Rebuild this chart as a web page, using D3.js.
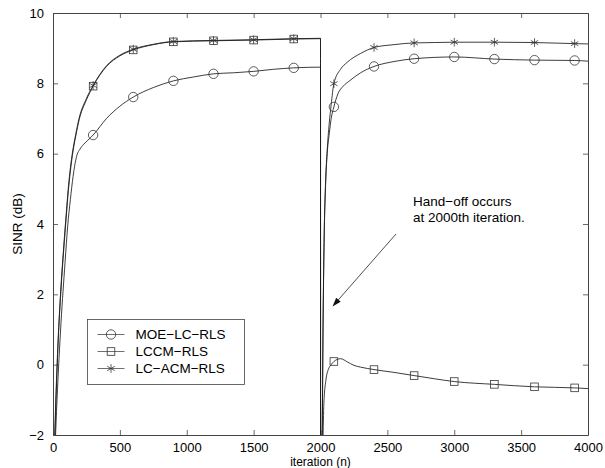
<!DOCTYPE html>
<html>
<head>
<meta charset="utf-8">
<script src="https://cdn.jsdelivr.net/npm/d3@7"></script>
<style>
  html, body { margin: 0; padding: 0; background: #fff; }
  svg { display: block; }
  text { font-family: "Liberation Sans", Arial, Helvetica, sans-serif; fill: #000; }
</style>
</head>
<body>
<svg id="chart" width="605" height="468"></svg>
<script>
// SINR convergence of three adaptive receivers, hand-off at n = 2000
const xTicks = [0, 500, 1000, 1500, 2000, 2500, 3000, 3500, 4000];
const yTicks = [-2, 0, 2, 4, 6, 8, 10];

const seriesNames = ["MOE\u2212LC\u2212RLS", "LCCM\u2212RLS", "LC\u2212ACM\u2212RLS"];
const markerIters = [300, 600, 900, 1200, 1500, 1800, 2100, 2400, 2700, 3000, 3300, 3600, 3900];

// [iteration, SINR dB]
const moeLcRls = [
  [0, -4], [30, -1.0], [60, 1.2], [90, 2.9], [110, 3.95], [130, 4.7], [150, 5.35], [165, 5.72],
  [180, 5.97], [200, 6.12], [230, 6.27], [260, 6.38], [300, 6.53], [400, 7.0], [500, 7.35],
  [600, 7.61], [750, 7.88], [900, 8.07], [1050, 8.18], [1200, 8.27], [1350, 8.3], [1500, 8.34],
  [1650, 8.4], [1800, 8.44], [2000, 8.46],
  [2000.5, -4], [2012, -2.2], [2020, 1.4], [2028, 3.7], [2038, 5.1], [2050, 6.0], [2065, 6.55],
  [2080, 7.0], [2100, 7.33], [2130, 7.7], [2170, 7.92], [2220, 8.08], [2300, 8.3], [2400, 8.48],
  [2550, 8.62], [2700, 8.70], [3000, 8.75], [3300, 8.69], [3600, 8.66], [3900, 8.65], [4000, 8.63]
];
const lccmRls = [
  [0, -4], [20, -1.3], [40, 0.75], [60, 2.15], [80, 3.25], [100, 4.25], [115, 4.95], [130, 5.5],
  [145, 5.95], [170, 6.5], [196, 6.97], [250, 7.53], [300, 7.92], [400, 8.48], [500, 8.78],
  [600, 8.95], [750, 9.1], [900, 9.18], [1200, 9.21], [1500, 9.23], [1800, 9.26], [2000, 9.27],
  [2000.5, -4], [2018, -2.2], [2025, -1.1], [2040, -0.45], [2060, -0.12], [2080, 0.0], [2100, 0.09],
  [2150, 0.17], [2200, 0.08], [2250, -0.02], [2300, -0.07], [2400, -0.14], [2550, -0.22],
  [2700, -0.31], [2850, -0.4], [3000, -0.48], [3300, -0.56], [3600, -0.63], [3900, -0.66], [4000, -0.68]
];
const lcAcmRls = [
  [0, -4], [20, -1.1], [40, 0.85], [60, 2.25], [80, 3.35], [100, 4.35], [115, 5.05], [130, 5.6],
  [145, 6.02], [170, 6.55], [196, 7.02], [250, 7.57], [300, 7.94], [400, 8.5], [500, 8.8],
  [600, 8.97], [750, 9.11], [900, 9.19], [1200, 9.22], [1500, 9.24], [1800, 9.27], [2000, 9.28],
  [2000.5, -4], [2012, -2.2], [2020, 1.5], [2028, 3.8], [2038, 5.2], [2050, 6.1], [2065, 6.85],
  [2080, 7.4], [2100, 7.99], [2150, 8.4], [2200, 8.6], [2300, 8.85], [2400, 9.02], [2550, 9.1],
  [2700, 9.15], [2850, 9.16], [3000, 9.17], [3300, 9.17], [3600, 9.16], [3900, 9.13], [4000, 9.12]
];

const svg = d3.select("#chart");
const m = { left: 53, right: 17, top: 13, bottom: 33 };
const W = 605, H = 468;
const x = d3.scaleLinear().domain([0, 4000]).range([m.left, W - m.right]);
const y = d3.scaleLinear().domain([-2, 10]).range([H - m.bottom, m.top]);

const axisColor = "#444";
const lineColor = "#1a1a1a";

svg.append("defs").append("clipPath").attr("id", "plotClip")
  .append("rect").attr("x", x(0)).attr("y", y(10)).attr("width", x(4000) - x(0)).attr("height", y(-2) - y(10));

// axes box with inward ticks on all sides
const tickLen = 5;
const bottomAxis = d3.axisBottom(x).tickValues(xTicks).tickSizeInner(-tickLen).tickSizeOuter(0).tickPadding(7.5)
  .tickFormat(d3.format("d"));
const leftAxis = d3.axisLeft(y).tickValues(yTicks).tickSizeInner(-tickLen).tickSizeOuter(0).tickPadding(9)
  .tickFormat(d => (d < 0 ? "\u2212" + Math.abs(d) : String(d)));
const topAxis = d3.axisTop(x).tickValues(xTicks).tickSizeInner(-tickLen).tickSizeOuter(0).tickFormat("");
const rightAxis = d3.axisRight(y).tickValues(yTicks).tickSizeInner(-tickLen).tickSizeOuter(0).tickFormat("");

function styleAxis(g) {
  g.selectAll("path.domain").attr("stroke", axisColor).attr("stroke-width", 1);
  g.selectAll(".tick line").attr("stroke", axisColor).attr("stroke-width", 0.8);
  g.selectAll(".tick text").attr("font-size", 13).attr("fill", "#000")
    .attr("font-family", "'Liberation Sans', Arial, sans-serif");
}
svg.append("g").attr("transform", `translate(0,${y(-2)})`).call(bottomAxis).call(styleAxis);
svg.append("g").attr("transform", `translate(${x(0)},0)`).call(leftAxis).call(styleAxis);
svg.append("g").attr("transform", `translate(0,${y(10)})`).call(topAxis).call(styleAxis);
svg.append("g").attr("transform", `translate(${x(4000)},0)`).call(rightAxis).call(styleAxis);

// curves
const line = d3.line().x(d => x(d[0])).y(d => y(d[1])).curve(d3.curveMonotoneX);
const plot = svg.append("g").attr("clip-path", "url(#plotClip)");
const allSeries = [moeLcRls, lccmRls, lcAcmRls];
allSeries.forEach(s => {
  plot.append("path").datum(s).attr("d", line)
    .attr("fill", "none").attr("stroke", lineColor).attr("stroke-width", 0.85);
});

// value at a given iteration, read from the series
function valueAt(series, n) {
  const exact = series.find(p => p[0] === n);
  if (exact) return exact[1];
  for (let i = 1; i < series.length; i++) {
    const a = series[i - 1], b = series[i];
    if (n >= a[0] && n <= b[0]) return a[1] + (b[1] - a[1]) * (n - a[0]) / (b[0] - a[0]);
  }
  return null;
}

const markerStroke = "#333";
function drawMarker(g, kind, cx, cy) {
  if (kind === 0) {
    g.append("circle").attr("cx", cx).attr("cy", cy).attr("r", 4.7)
      .attr("fill", "none").attr("stroke", markerStroke).attr("stroke-width", 0.8);
  } else if (kind === 1) {
    g.append("rect").attr("x", cx - 3.8).attr("y", cy - 3.8).attr("width", 7.6).attr("height", 7.6)
      .attr("fill", "none").attr("stroke", markerStroke).attr("stroke-width", 0.8);
  } else {
    const r = 4.3, dx = r * Math.cos(Math.PI / 6), dy = r * Math.sin(Math.PI / 6);
    g.append("path")
      .attr("d", `M${cx},${cy - r}L${cx},${cy + r}M${cx - dx},${cy - dy}L${cx + dx},${cy + dy}M${cx - dx},${cy + dy}L${cx + dx},${cy - dy}`)
      .attr("fill", "none").attr("stroke", markerStroke).attr("stroke-width", 0.8);
  }
}
const markers = svg.append("g");
allSeries.forEach((s, k) => {
  markerIters.forEach(n => drawMarker(markers, k, x(n), y(valueAt(s, n))));
});

// legend
const lg = svg.append("g");
const lx = 87.5, ly = 319.5, lw = 157, lh = 65;
lg.append("rect").attr("x", lx).attr("y", ly).attr("width", lw).attr("height", lh)
  .attr("fill", "#fff").attr("stroke", axisColor).attr("stroke-width", 0.8);
seriesNames.forEach((name, i) => {
  const cy = ly + 15 + i * 17;
  lg.append("line").attr("x1", lx + 10).attr("x2", lx + 37).attr("y1", cy).attr("y2", cy)
    .attr("stroke", "#555").attr("stroke-width", 0.85);
  drawMarker(lg, i, lx + 23.5, cy);
  lg.append("text").attr("x", lx + 48).attr("y", cy + 4.8).attr("font-size", 13.5).text(name);
});

// hand-off annotation
const ann = svg.append("g");
ann.append("text").attr("x", 413).attr("y", 206).attr("font-size", 13.5).text("Hand\u2212off occurs");
ann.append("text").attr("x", 413).attr("y", 222).attr("font-size", 13.5).text("at 2000th iteration.");
const ax1 = 396, ay1 = 234, ax2 = 332.5, ay2 = 306.5;
ann.append("line").attr("x1", ax1).attr("y1", ay1).attr("x2", ax2 + 4).attr("y2", ay2 - 4.6)
  .attr("stroke", "#222").attr("stroke-width", 0.8);
{
  const ang = Math.atan2(ay2 - ay1, ax2 - ax1);
  const L = 9, wdt = 3;
  const bx = ax2 - L * Math.cos(ang), by = ay2 - L * Math.sin(ang);
  const px = -Math.sin(ang) * wdt, py = Math.cos(ang) * wdt;
  ann.append("path").attr("d", `M${ax2},${ay2}L${bx + px},${by + py}L${bx - px},${by - py}Z`).attr("fill", "#111");
}

// axis titles
svg.append("text").attr("x", (x(0) + x(4000)) / 2).attr("y", 465.6).attr("text-anchor", "middle")
  .attr("font-size", 12).text("iteration (n)");
svg.append("text").attr("transform", `translate(22,${(y(-2) + y(10)) / 2}) rotate(-90)`)
  .attr("text-anchor", "middle").attr("font-size", 13.5).text("SINR (dB)");
</script>
</body>
</html>
